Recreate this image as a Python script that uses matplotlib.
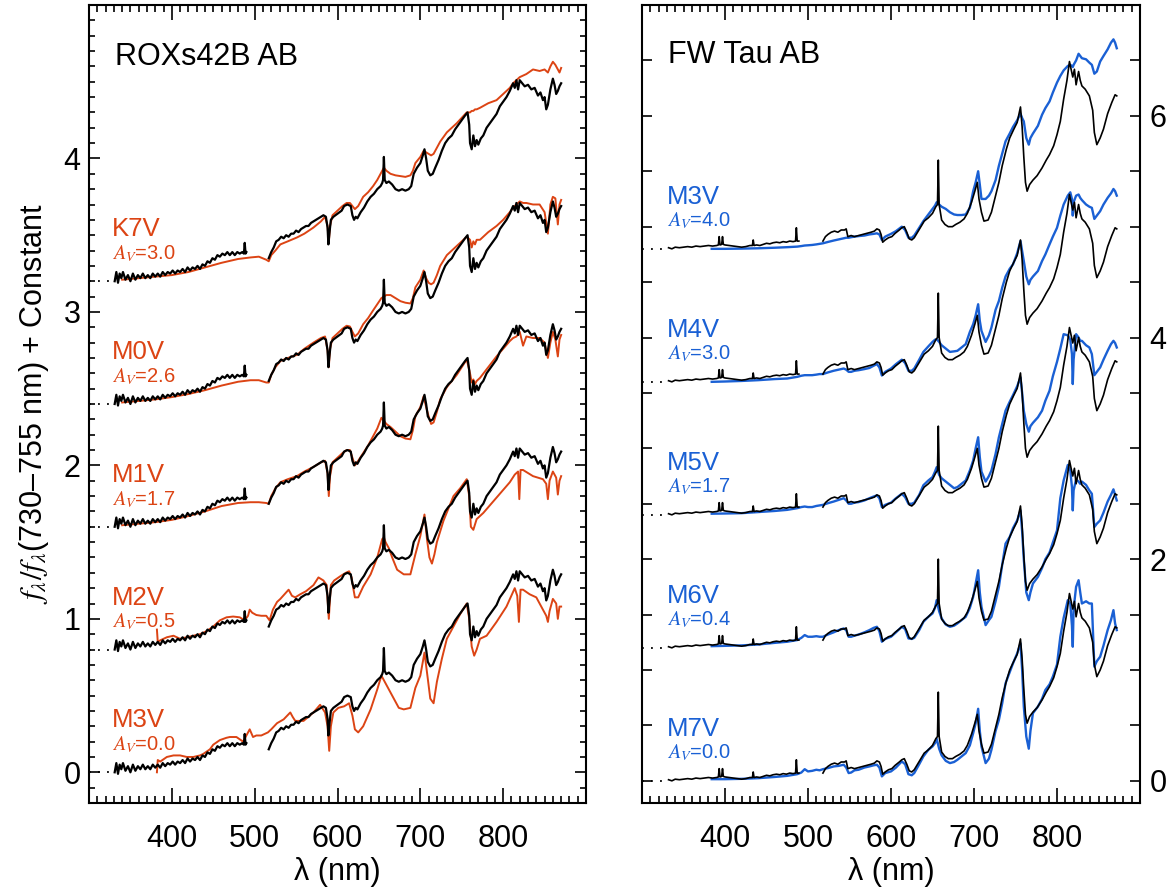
import numpy as np
import matplotlib
matplotlib.use("Agg")
import matplotlib.pyplot as plt
from matplotlib.ticker import MultipleLocator

plt.rcParams['font.family'] = ['Liberation Sans', 'DejaVu Sans']
plt.rcParams['mathtext.fontset'] = 'stix'

ORANGE = '#dc4414'
BLUE = '#1a60d4'

# ---------------- ROXs42B AB (left panel) ----------------
rox_wl = [331, 333, 335, 337, 339, 341, 344, 347, 350, 353, 356, 359, 362, 365, 368, 371, 374, 377,
          380, 383, 386, 389, 392, 395, 398, 401, 404, 407, 410, 413, 416, 419, 422, 425, 428, 431,
          434, 437, 440, 443, 446, 449, 452, 455, 458, 461, 464, 467, 470, 473, 476, 479, 482, 485,
          487, 488, 489, 490, 495,
          517, 520, 523, 526, 529, 532, 535, 538, 541, 544, 547, 550, 553, 556, 559, 562, 565, 568,
          571, 574, 577, 580, 583, 586, 588, 589, 590, 592, 595, 600, 605, 608, 612, 616, 618, 620,
          622, 624, 628, 632, 636, 640, 644, 648, 652, 654, 655, 656, 657, 659, 662, 666, 670, 674,
          678, 682, 686, 689, 692, 696, 700, 703, 705, 707, 709, 712, 715, 718, 722, 726, 730, 734,
          738, 742, 746, 750, 754, 757, 759, 760, 762, 764, 766, 768, 770, 773, 776, 780, 784, 788,
          792, 796, 800, 804, 808, 812, 814, 816, 818, 820, 823, 826, 830, 834, 838, 842, 845, 848,
          850, 852, 854, 857, 860, 862, 864, 866, 868, 870]
rox_flux = [0.00, 0.06, -0.01, 0.05, 0.02, 0.06, 0.01, 0.04, 0.00, 0.05, 0.01, 0.04, 0.02, 0.05, 0.02,
            0.04, 0.02, 0.05, 0.03, 0.05, 0.03, 0.06, 0.04, 0.06, 0.05, 0.07, 0.05, 0.07, 0.06, 0.08,
            0.06, 0.09, 0.07, 0.09, 0.08, 0.10, 0.08, 0.11, 0.10, 0.13, 0.12, 0.15, 0.14, 0.17, 0.16,
            0.18, 0.17, 0.19, 0.17, 0.19, 0.17, 0.19, 0.18, 0.19, 0.18, 0.25, 0.18, 0.19, np.nan,
            0.15, 0.19, 0.22, 0.26, 0.27, 0.29, 0.28, 0.30, 0.29, 0.31, 0.31, 0.33, 0.32, 0.34, 0.35,
            0.36, 0.36, 0.38, 0.39, 0.40, 0.41, 0.42, 0.43, 0.42, 0.35, 0.24, 0.30, 0.40, 0.42, 0.44,
            0.46, 0.49, 0.50, 0.49, 0.43, 0.40, 0.42, 0.41, 0.45, 0.48, 0.52, 0.55, 0.57, 0.60, 0.62,
            0.64, 0.66, 0.81, 0.66, 0.64, 0.65, 0.63, 0.60, 0.59, 0.60, 0.59, 0.60, 0.62, 0.70, 0.74,
            0.77, 0.82, 0.86, 0.80, 0.72, 0.69, 0.70, 0.74, 0.79, 0.85, 0.90, 0.93, 0.95, 0.99, 1.02,
            1.05, 1.08, 1.10, 1.02, 0.90, 0.86, 0.95, 0.88, 0.92, 0.89, 0.93, 0.95, 1.00, 1.03, 1.06,
            1.09, 1.14, 1.17, 1.20, 1.24, 1.29, 1.26, 1.31, 1.25, 1.31, 1.29, 1.27, 1.28, 1.25, 1.26,
            1.21, 1.23, 1.18, 1.20, 1.12, 1.15, 1.25, 1.32, 1.28, 1.22, 1.24, 1.27, 1.29]

tmpl_wl = [340, 360, 380, 400, 420, 440, 460, 480, 495, 505, 514, 517, 520, 525, 531, 540, 551, 560,
           571, 580, 585, 588, 589.5, 591, 594, 600, 606, 611, 615, 618, 621, 625, 631, 637, 643, 648,
           653, 656, 659, 664, 670, 676, 682, 688, 691, 694, 700, 704, 707, 710, 713, 716, 720, 724,
           732, 744, 756, 760, 762, 764, 766, 768, 772, 782, 792, 800, 808, 812, 816, 820, 824, 828,
           836, 844, 850, 854, 857, 860, 863, 866, 868, 870]
k7v_flux = [0.01, 0.02, 0.03, 0.04, 0.06, 0.09, 0.12, 0.145, 0.155, 0.16, 0.14, 0.13, 0.17, 0.20, 0.24,
            0.26, 0.285, 0.31, 0.35, 0.39, 0.42, 0.36, 0.25, 0.36, 0.43, 0.46, 0.49, 0.51, 0.51, 0.49,
            0.47, 0.49, 0.55, 0.58, 0.62, 0.66, 0.71, 0.74, 0.72, 0.70, 0.69, 0.685, 0.68, 0.69, 0.72,
            0.77, 0.81, 0.85, 0.84, 0.83, 0.82, 0.83, 0.87, 0.91, 0.97, 1.03, 1.10, 1.10, 1.11, 1.11,
            1.12, 1.12, 1.13, 1.16, 1.18, 1.22, 1.26, 1.29, 1.31, 1.33, 1.34, 1.35, 1.38, 1.37, 1.38,
            1.36, 1.40, 1.43, 1.41, 1.38, 1.36, 1.39]
m0v_flux = [0.01, 0.02, 0.03, 0.045, 0.065, 0.09, 0.12, 0.145, 0.155, 0.155, 0.14, 0.14, 0.19, 0.24,
            0.28, 0.30, 0.32, 0.36, 0.40, 0.43, 0.44, 0.35, 0.24, 0.36, 0.43, 0.46, 0.49, 0.51, 0.505,
            0.47, 0.44, 0.46, 0.52, 0.56, 0.61, 0.65, 0.69, 0.70, 0.71, 0.71, 0.69, 0.67, 0.66, 0.655,
            0.69, 0.76, 0.81, 0.87, 0.82, 0.79, 0.78, 0.79, 0.84, 0.90, 0.97, 1.03, 1.09, 1.07, 1.02,
            1.06, 1.04, 1.07, 1.07, 1.12, 1.16, 1.20, 1.25, 1.28, 1.30, 1.32, 1.31, 1.31, 1.30, 1.30,
            1.25, 1.11, 1.30, 1.35, 1.34, 1.17, 1.30, 1.33]
m1v_flux = [0.01, 0.02, 0.03, 0.045, 0.07, 0.10, 0.135, 0.155, 0.16, 0.16, 0.155, 0.15, 0.20, 0.25,
            0.29, 0.31, 0.33, 0.36, 0.39, 0.42, 0.43, 0.35, 0.20, 0.33, 0.42, 0.45, 0.48, 0.50, 0.50,
            0.45, 0.40, 0.43, 0.48, 0.53, 0.59, 0.64, 0.71, 0.69, 0.67, 0.65, 0.62, 0.59, 0.575, 0.57,
            0.63, 0.72, 0.78, 0.85, 0.78, 0.72, 0.67, 0.68, 0.75, 0.83, 0.91, 0.99, 1.09, 1.00, 0.94,
            0.96, 0.93, 0.95, 0.97, 1.04, 1.11, 1.16, 1.21, 1.23, 1.24, 1.27, 1.18, 1.24, 1.23, 1.23,
            1.20, 1.10, 1.20, 1.27, 1.22, 1.11, 1.22, 1.25]

m2v_wl = [382, 383, 386, 394, 402, 410, 418, 426, 434, 442, 450, 458, 466, 474, 482, 488, 492, 494,
          497, 502, 508, 514, 518, 522, 527, 531, 536, 541, 545, 549, 555, 562, 571, 577, 583, 587,
          589.5, 592, 596, 604, 610, 614, 617, 619, 621, 625, 631, 640, 648, 652, 654, 656, 658, 662,
          666, 672, 680, 688, 694, 700, 705, 708, 711, 714, 717, 720, 728, 740, 748, 756, 759, 761,
          764, 768, 776, 784, 792, 800, 808, 814, 818, 819.5, 821, 824, 830, 836, 842, 848, 852, 854,
          856, 860, 864, 866, 868, 870]
m2v_flux = [0.13, 0.05, 0.06, 0.08, 0.09, 0.07, 0.08, 0.09, 0.10, 0.12, 0.15, 0.19, 0.21, 0.215, 0.21,
            0.19, 0.22, 0.26, 0.24, 0.225, 0.22, 0.22, 0.19, 0.26, 0.31, 0.33, 0.36, 0.39, 0.35, 0.34,
            0.36, 0.38, 0.42, 0.47, 0.45, 0.42, 0.20, 0.42, 0.45, 0.48, 0.50, 0.51, 0.47, 0.40, 0.34,
            0.34, 0.41, 0.49, 0.60, 0.68, 0.72, 0.73, 0.70, 0.66, 0.60, 0.52, 0.49, 0.49, 0.62, 0.74,
            0.88, 0.72, 0.60, 0.56, 0.62, 0.70, 0.84, 1.00, 1.05, 1.11, 1.00, 0.80, 0.78, 0.85, 0.89,
            0.94, 0.99, 1.04, 1.09, 1.14, 1.16, 0.98, 1.17, 1.17, 1.15, 1.13, 1.12, 1.11, 1.08, 0.98,
            1.10, 1.16, 1.12, 1.01, 1.10, 1.13]

m3v_wl = [382, 383, 386, 394, 402, 410, 418, 426, 434, 438, 446, 450, 458, 466, 470, 478, 486, 490,
          494, 498, 502, 508, 516, 520, 527, 535, 543, 546, 549, 559, 571, 579, 585, 588, 590, 592,
          595, 601, 608, 614, 618, 621, 625, 631, 640, 648, 653, 656, 660, 668, 674, 680, 688, 694,
          700, 705, 709, 712, 716, 720, 726, 732, 740, 748, 756, 759, 762, 765, 768, 772, 780, 792,
          804, 814, 817, 819, 821, 824, 832, 840, 848, 852, 854, 856, 860, 864, 866, 868, 870]
m3v_flux = [0.0, 0.08, 0.07, 0.10, 0.11, 0.11, 0.10, 0.10, 0.11, 0.12, 0.15, 0.18, 0.21, 0.225, 0.23,
            0.23, 0.20, 0.24, 0.28, 0.23, 0.24, 0.24, 0.26, 0.28, 0.32, 0.345, 0.39, 0.36, 0.335,
            0.335, 0.39, 0.44, 0.39, 0.30, 0.14, 0.30, 0.39, 0.42, 0.43, 0.45, 0.37, 0.28, 0.26,
            0.30, 0.41, 0.54, 0.63, 0.60, 0.56, 0.48, 0.42, 0.41, 0.42, 0.55, 0.63, 0.78, 0.61, 0.48,
            0.45, 0.59, 0.74, 0.87, 0.95, 1.03, 1.10, 1.00, 0.82, 0.76, 0.80, 0.87, 0.89, 0.98, 1.08,
            1.20, 1.15, 0.98, 1.19, 1.19, 1.16, 1.14, 1.06, 1.02, 0.98, 1.05, 1.13, 1.10, 1.00, 1.08,
            1.08]

rox_types = ['K7V', 'M0V', 'M1V', 'M2V', 'M3V']
rox_av = ['3.0', '2.6', '1.7', '0.5', '0.0']
rox_offsets = [3.2, 2.4, 1.6, 0.8, 0.0]
rox_templates = [(tmpl_wl, k7v_flux), (tmpl_wl, m0v_flux), (tmpl_wl, m1v_flux),
                 (m2v_wl, m2v_flux), (m3v_wl, m3v_flux)]

# ---------------- FW Tau AB (right panel) ----------------
fw_wl = [332, 336, 340, 345, 350, 355, 360, 365, 370, 375, 380, 385, 390, 392, 393, 394, 396, 397, 398,
         400, 405, 410, 415, 420, 425, 430, 433, 434, 435, 438, 442, 446, 450, 454, 458, 462, 466, 470,
         474, 478, 482, 485, 486, 487, 489, 495,
         518, 521, 524, 528, 532, 536, 540, 544, 546, 548, 552, 556, 561, 566, 571, 576, 580, 583, 586,
         588, 590, 593, 597, 601, 605, 610, 613, 616, 619, 622, 625, 628, 632, 636, 640, 645, 650, 654,
         656, 657, 658, 661, 665, 669, 674, 678, 683, 688, 692, 697, 701, 704, 706, 709, 712, 717, 721,
         725, 730, 734, 739, 743, 748, 752, 756, 758, 760, 762, 764, 767, 771, 776, 782, 787, 791, 796,
         800, 804, 808, 812, 815, 817, 819, 821, 823, 826, 828, 830, 834, 839, 843, 845, 848, 852, 856,
         861, 866, 870, 872]
fw_flux = [0.01, 0.0, 0.015, 0.01, 0.015, 0.02, 0.015, 0.025, 0.02, 0.025, 0.03, 0.025, 0.03, 0.035,
           0.11, 0.035, 0.04, 0.11, 0.04, 0.035, 0.03, 0.025, 0.02, 0.015, 0.02, 0.03, 0.03, 0.08, 0.03,
           0.035, 0.03, 0.04, 0.05, 0.045, 0.055, 0.06, 0.055, 0.065, 0.06, 0.07, 0.065, 0.07, 0.19,
           0.07, 0.07, np.nan,
           0.07, 0.11, 0.13, 0.15, 0.16, 0.15, 0.17, 0.17, 0.18, 0.11, 0.12, 0.11, 0.12, 0.13, 0.14,
           0.15, 0.16, 0.18, 0.17, 0.13, 0.06, 0.08, 0.10, 0.11, 0.14, 0.17, 0.19, 0.20, 0.15, 0.09,
           0.08, 0.10, 0.15, 0.20, 0.25, 0.28, 0.32, 0.38, 0.40, 0.80, 0.40, 0.26, 0.22, 0.20, 0.20,
           0.22, 0.24, 0.27, 0.32, 0.42, 0.52, 0.60, 0.45, 0.33, 0.25, 0.26, 0.33, 0.45, 0.60, 0.75,
           0.90, 1.00, 1.08, 1.14, 1.28, 1.10, 0.83, 0.60, 0.52, 0.58, 0.62, 0.66, 0.73, 0.80, 0.85,
           0.93, 1.03, 1.15, 1.35, 1.52, 1.69, 1.62, 1.55, 1.62, 1.48, 1.60, 1.52, 1.47, 1.44, 1.38,
           1.25, 1.05, 0.94, 1.00, 1.08, 1.22, 1.32, 1.39, 1.38]

blue_wl = [384, 400, 420, 440, 460, 475, 487, 492, 496, 500, 505, 510, 514, 518, 524, 531, 537, 543,
           546, 549, 552, 556, 561, 568, 574, 579, 583, 586, 589, 593, 600, 606, 613, 617, 621, 625,
           628, 634, 639, 645, 650, 653, 655, 658, 661, 666, 671, 676, 680, 685, 690, 695, 699, 702,
           705, 707, 709, 714, 718, 721, 726, 730, 734, 738, 743, 747, 752, 756, 758, 760, 763, 766,
           768, 771, 777, 782, 786, 791, 795, 800, 804, 808, 813, 816, 818, 819, 820, 823, 826, 828,
           830, 835, 839, 842, 845, 848, 852, 856, 861, 865, 868, 870, 872]
m7v_flux = [0.015, 0.015, 0.018, 0.024, 0.035, 0.045, 0.06, 0.075, 0.105, 0.085, 0.09, 0.10, 0.095,
            0.105, 0.115, 0.13, 0.135, 0.145, 0.12, 0.07, 0.075, 0.095, 0.10, 0.12, 0.13, 0.14, 0.145,
            0.12, 0.04, 0.07, 0.085, 0.12, 0.175, 0.15, 0.06, 0.05, 0.07, 0.15, 0.22, 0.28, 0.31, 0.34,
            0.38, 0.29, 0.23, 0.18, 0.16, 0.17, 0.19, 0.22, 0.25, 0.32, 0.43, 0.52, 0.65, 0.45, 0.31,
            0.16, 0.20, 0.28, 0.45, 0.55, 0.70, 0.88, 0.98, 1.06, 1.15, 1.24, 1.00, 0.67, 0.40, 0.29,
            0.45, 0.61, 0.67, 0.74, 0.82, 0.87, 0.94, 1.05, 1.30, 1.47, 1.63, 1.60, 1.40, 1.21, 1.55,
            1.75, 1.81, 1.70, 1.60, 1.62, 1.60, 1.60, 1.03, 1.08, 1.12, 1.22, 1.36, 1.45, 1.54, 1.42,
            1.36]
m6v_flux = [0.015, 0.018, 0.022, 0.03, 0.045, 0.055, 0.07, 0.09, 0.115, 0.10, 0.10, 0.105, 0.10, 0.10,
            0.12, 0.14, 0.16, 0.175, 0.16, 0.10, 0.10, 0.11, 0.12, 0.14, 0.16, 0.18, 0.19, 0.15, 0.055,
            0.08, 0.10, 0.14, 0.19, 0.17, 0.085, 0.08, 0.09, 0.16, 0.235, 0.28, 0.31, 0.36, 0.43, 0.33,
            0.265, 0.21, 0.19, 0.20, 0.22, 0.25, 0.28, 0.36, 0.46, 0.58, 0.70, 0.50, 0.37, 0.205, 0.25,
            0.28, 0.42, 0.55, 0.75, 0.94, 1.00, 1.08, 1.15, 1.24, 1.05, 0.80, 0.50, 0.43, 0.50, 0.58,
            0.64, 0.72, 0.80, 0.86, 0.95, 1.06, 1.35, 1.51, 1.65, 1.60, 1.45, 1.24, 1.42, 1.52, 1.50,
            1.48, 1.50, 1.47, 1.42, 1.39, 1.09, 1.12, 1.15, 1.22, 1.32, 1.38, 1.43, 1.38, 1.33]
m5v_flux = [0.01, 0.012, 0.015, 0.025, 0.035, 0.045, 0.06, 0.07, 0.075, 0.07, 0.07, 0.08, 0.085, 0.09,
            0.105, 0.12, 0.135, 0.15, 0.13, 0.10, 0.10, 0.11, 0.115, 0.13, 0.15, 0.165, 0.175, 0.15,
            0.07, 0.09, 0.11, 0.15, 0.19, 0.16, 0.10, 0.10, 0.11, 0.18, 0.267, 0.31, 0.34, 0.39, 0.43,
            0.36, 0.33, 0.30, 0.27, 0.24, 0.25, 0.28, 0.31, 0.40, 0.49, 0.60, 0.70, 0.52, 0.39, 0.30,
            0.35, 0.40, 0.55, 0.70, 0.82, 0.94, 1.02, 1.08, 1.16, 1.24, 1.10, 0.94, 0.82, 0.75, 0.80,
            0.83, 0.88, 0.94, 1.03, 1.12, 1.25, 1.38, 1.50, 1.63, 1.62, 1.58, 1.45, 1.18, 1.40, 1.63,
            1.60, 1.57, 1.57, 1.53, 1.51, 1.45, 1.26, 1.29, 1.33, 1.40, 1.48, 1.54, 1.57, 1.55, 1.51]
m4v_flux = [0.0, 0.003, 0.008, 0.015, 0.025, 0.03, 0.045, 0.055, 0.06, 0.06, 0.06, 0.065, 0.07, 0.07,
            0.085, 0.10, 0.11, 0.12, 0.11, 0.09, 0.09, 0.10, 0.105, 0.115, 0.125, 0.145, 0.16, 0.13,
            0.057, 0.09, 0.12, 0.16, 0.20, 0.17, 0.10, 0.10, 0.12, 0.20, 0.27, 0.32, 0.36, 0.38, 0.385,
            0.36, 0.33, 0.30, 0.27, 0.275, 0.28, 0.31, 0.34, 0.45, 0.52, 0.60, 0.70, 0.55, 0.46, 0.36,
            0.42, 0.49, 0.65, 0.73, 0.85, 0.95, 1.02, 1.06, 1.16, 1.27, 1.18, 1.09, 0.95, 0.88, 0.92,
            0.95, 1.00, 1.09, 1.15, 1.24, 1.31, 1.39, 1.50, 1.60, 1.68, 1.71, 1.65, 1.50, 1.62, 1.68,
            1.69, 1.66, 1.64, 1.60, 1.58, 1.57, 1.47, 1.50, 1.54, 1.60, 1.66, 1.70, 1.74, 1.72, 1.68]
m3v_fw_flux = [0.0, 0.0, 0.002, 0.005, 0.01, 0.015, 0.02, 0.025, 0.03, 0.032, 0.035, 0.04, 0.045, 0.05,
               0.062, 0.075, 0.085, 0.095, 0.10, 0.10, 0.105, 0.11, 0.115, 0.12, 0.13, 0.135, 0.14,
               0.13, 0.08, 0.11, 0.135, 0.16, 0.20, 0.17, 0.10, 0.10, 0.12, 0.19, 0.25, 0.31, 0.36,
               0.39, 0.42, 0.40, 0.38, 0.36, 0.33, 0.31, 0.305, 0.305, 0.31, 0.37, 0.52, 0.60, 0.70,
               0.58, 0.45, 0.45, 0.48, 0.52, 0.62, 0.75, 0.86, 0.97, 1.04, 1.10, 1.16, 1.22, 1.18, 1.15,
               1.00, 0.94, 1.00, 1.04, 1.11, 1.21, 1.27, 1.33, 1.41, 1.50, 1.56, 1.61, 1.65, 1.66,
               1.65, 1.64, 1.66, 1.70, 1.76, 1.74, 1.72, 1.71, 1.68, 1.66, 1.58, 1.60, 1.69, 1.74,
               1.80, 1.86, 1.89, 1.86, 1.81]

fw_types = ['M3V', 'M4V', 'M5V', 'M6V', 'M7V']
fw_av = ['4.0', '3.0', '1.7', '0.4', '0.0']
fw_offsets = [4.8, 3.6, 2.4, 1.2, 0.0]
fw_templates = [m3v_fw_flux, m4v_flux, m5v_flux, m6v_flux, m7v_flux]


fig = plt.figure(figsize=(11.74, 8.94), dpi=100)
ax1 = fig.add_axes([89 / 1174, 1 - 803 / 894, 497 / 1174, 798 / 894])
ax2 = fig.add_axes([642 / 1174, 1 - 803 / 894, 498 / 1174, 798 / 894])

# left panel
for (wl, fl), off, sp, av in zip(rox_templates, rox_offsets, rox_types, rox_av):
    ax1.plot(wl, np.array(fl) + off, color=ORANGE, lw=1.4, zorder=2)
    ax1.plot(rox_wl, np.array(rox_flux) + off, color='black', lw=1.6, zorder=3)
    ax1.plot([300, 329], [off, off], color='black', lw=1.3, ls=(0, (1, 4)))
    ax1.text(328, off + 0.293, sp, color=ORANGE, fontsize=18.5)
    ax1.text(328, off + 0.143, r'$A_V$=' + av, color=ORANGE, fontsize=14.5)

ax1.text(331, 4.61, 'ROXs42B AB', fontsize=22)
ax1.set_xlim(300, 900)
ax1.set_ylim(-0.2, 5.0)
ax1.set_xticks([400, 500, 600, 700, 800])
ax1.set_yticks([0, 1, 2, 3, 4])
ax1.xaxis.set_minor_locator(MultipleLocator(10))
ax1.yaxis.set_minor_locator(MultipleLocator(0.1))
ax1.set_xlabel('λ (nm)', fontsize=22, labelpad=2)
ax1.set_ylabel(r'$f_\lambda/f_\lambda$(730–755 nm) + Constant', fontsize=22, labelpad=9)

# right panel
for fl, off, sp, av in zip(fw_templates, fw_offsets, fw_types, fw_av):
    ax2.plot(blue_wl, np.array(fl) + off, color=BLUE, lw=1.7, zorder=2)
    ax2.plot(fw_wl, np.array(fw_flux) + off, color='black', lw=1.2, zorder=3)
    ax2.plot([300, 331], [off, off], color='black', lw=1.3, ls=(0, (1, 4)))
    ax2.text(330, off + 0.405, sp, color=BLUE, fontsize=18.5)
    ax2.text(330, off + 0.207, r'$A_V$=' + av, color=BLUE, fontsize=14.5)

ax2.text(331, 6.48, 'FW Tau AB', fontsize=22)
ax2.set_xlim(300, 900)
ax2.set_ylim(-0.2, 7.0)
ax2.set_xticks([400, 500, 600, 700, 800])
ax2.set_yticks([0, 2, 4, 6])
ax2.xaxis.set_minor_locator(MultipleLocator(10))
ax2.yaxis.set_minor_locator(MultipleLocator(0.5))
ax2.set_xlabel('λ (nm)', fontsize=22, labelpad=2)

for ax in (ax1, ax2):
    for s in ax.spines.values():
        s.set_linewidth(1.5)
    ax.tick_params(which='both', direction='in', top=True, right=True, width=1.2, labelsize=22)
    ax.tick_params(axis='x', which='major', length=11, pad=15)
    ax.tick_params(axis='x', which='minor', length=5)
    ax.tick_params(axis='y', which='major', length=8, pad=6)
    ax.tick_params(axis='y', which='minor', length=4.5)

ax2.tick_params(axis='y', which='both', labelleft=False, labelright=True, length=7, pad=7)

fig.savefig('out.png', dpi=100)
